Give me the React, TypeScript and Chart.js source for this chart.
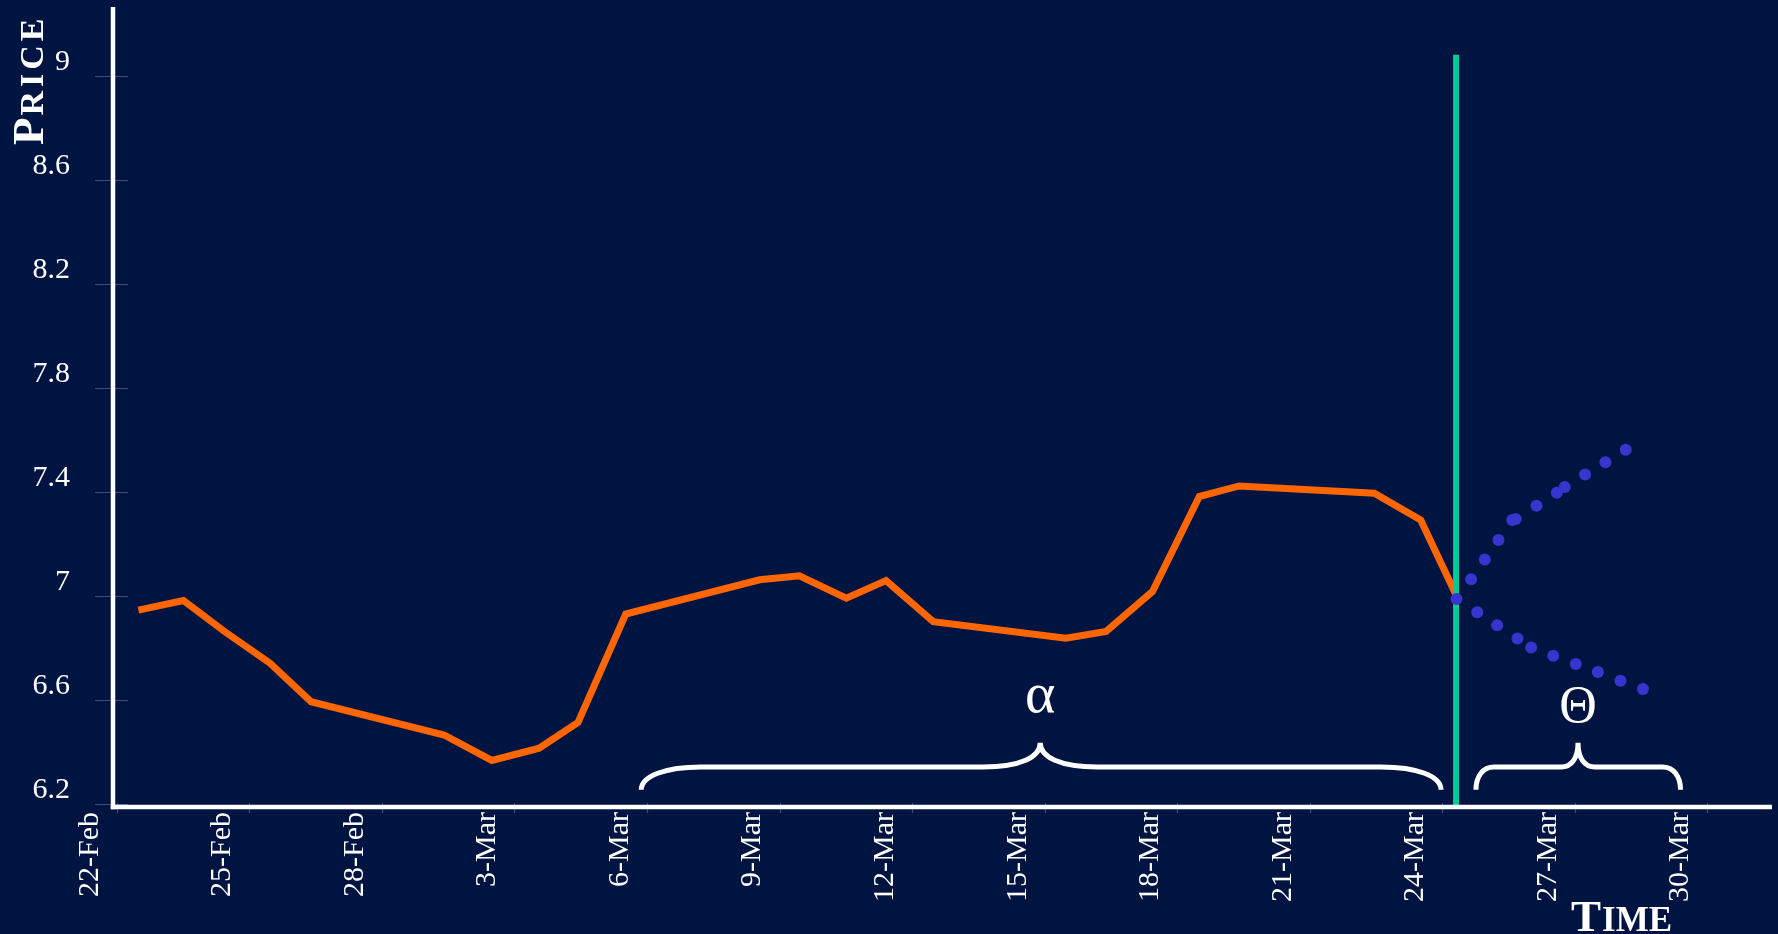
import React, { useEffect, useRef } from 'react';
import { Chart, registerables } from 'chart.js';

Chart.register(...registerables);

// ---- data (x = days since 22-Feb) ----
const tickDays = [0, 3, 6, 9, 12, 15, 18, 21, 24, 27, 30, 33, 36];
const tickLabels = ['22-Feb', '25-Feb', '28-Feb', '3-Mar', '6-Mar', '9-Mar', '12-Mar', '15-Mar', '18-Mar', '21-Mar', '24-Mar', '27-Mar', '30-Mar'];
const yTickValues = [6.2, 6.6, 7, 7.4, 7.8, 8.2, 8.6, 9];
const yTickLabels = ['6.2', '6.6', '7', '7.4', '7.8', '8.2', '8.6', '9'];

const priceDays = [0.49, 1.51, 2.44, 3.47, 4.40, 7.41, 8.49, 9.56, 10.44, 11.52, 14.55, 15.45, 16.51, 17.41, 18.48, 21.48, 22.39, 23.44, 24.50, 25.40, 28.46, 29.51, 30.33];
const priceValues = [6.945, 6.982, 6.863, 6.741, 6.593, 6.465, 6.367, 6.414, 6.513, 6.930, 7.062, 7.077, 6.991, 7.059, 6.901, 6.837, 6.863, 7.017, 7.382, 7.423, 7.395, 7.292, 6.997];

const upDays = [30.32, 30.65, 30.96, 31.27, 31.58, 31.66, 32.13, 32.59, 32.77, 33.23, 33.69, 34.15];
const upValues = [6.988, 7.064, 7.140, 7.215, 7.292, 7.296, 7.347, 7.397, 7.419, 7.467, 7.514, 7.562];
const downDays = [30.79, 31.24, 31.70, 32.01, 32.51, 33.02, 33.52, 34.03, 34.54];
const downValues = [6.937, 6.887, 6.836, 6.801, 6.770, 6.738, 6.707, 6.674, 6.642];

const nowDay = [30.31, 30.31];
const nowValues = [6.188, 9.081];

// brace annotations: [from day, to day, peak day], label
const braceFrom = [11.87, 30.76];
const braceTo = [29.97, 35.39];
const bracePeak = [20.9, 33.07];
const braceLabels = ['α', 'Θ'];

const X_MIN = -0.084;
const X_MAX = 37.46;
const Y_MIN = 6.188;
const Y_MAX = 9.265;

const FONT = "'Liberation Serif', 'Times New Roman', serif";
const BG = '#001442';

function drawBrace(ctx: CanvasRenderingContext2D, x1: number, x2: number, xm: number, yEnd: number, yBody: number, yPeak: number, rEnd: number, rCusp: number) {
  ctx.beginPath();
  ctx.moveTo(x1, yEnd);
  ctx.bezierCurveTo(x1, yEnd - (yEnd - yBody) * 0.6, x1 + rEnd * 0.4, yBody, x1 + rEnd, yBody);
  ctx.lineTo(xm - rCusp, yBody);
  ctx.bezierCurveTo(xm - rCusp * 0.35, yBody, xm, yBody - (yBody - yPeak) * 0.4, xm, yPeak);
  ctx.bezierCurveTo(xm, yBody - (yBody - yPeak) * 0.4, xm + rCusp * 0.35, yBody, xm + rCusp, yBody);
  ctx.lineTo(x2 - rEnd, yBody);
  ctx.bezierCurveTo(x2 - rEnd * 0.4, yBody, x2, yEnd - (yEnd - yBody) * 0.6, x2, yEnd);
  ctx.stroke();
}

const decorPlugin = {
  id: 'decor',
  beforeDraw(chart: any) {
    const ctx = chart.ctx;
    ctx.save();
    ctx.fillStyle = BG;
    ctx.fillRect(0, 0, chart.width, chart.height);
    ctx.restore();
  },
  beforeDatasetsDraw(chart: any) {
    const ctx = chart.ctx;
    const { x, y } = chart.scales;
    const area = chart.chartArea;
    ctx.save();
    // y tick marks crossing the axis
    ctx.strokeStyle = 'rgba(110,125,160,0.55)';
    ctx.lineWidth = 1.2;
    yTickValues.forEach((v) => {
      const py = Math.round(y.getPixelForValue(v)) + 0.5;
      ctx.beginPath();
      ctx.moveTo(area.left - 18, py);
      ctx.lineTo(area.left + 15, py);
      ctx.stroke();
    });
    // x tick marks
    tickDays.forEach((d) => {
      const px = Math.round(x.getPixelForValue(d)) + 0.5;
      ctx.beginPath();
      ctx.moveTo(px, area.bottom - 4);
      ctx.lineTo(px, area.bottom + 6);
      ctx.stroke();
    });
    ctx.restore();
  },
  afterDraw(chart: any) {
    const ctx = chart.ctx;
    const { x, y } = chart.scales;
    const area = chart.chartArea;
    ctx.save();
    // axes
    ctx.strokeStyle = '#ffffff';
    ctx.lineWidth = 4.5;
    ctx.beginPath();
    ctx.moveTo(area.left, area.top);
    ctx.lineTo(area.left, area.bottom + 2.2);
    ctx.stroke();
    ctx.beginPath();
    ctx.moveTo(area.left - 2.2, area.bottom);
    ctx.lineTo(area.right, area.bottom);
    ctx.stroke();

    // braces
    ctx.lineWidth = 5;
    ctx.lineCap = 'butt';
    const yEnd = y.getPixelForValue(6.254);
    const yBody = y.getPixelForValue(6.342);
    const yPeak = y.getPixelForValue(6.435);
    const radii = [[60, 57], [18, 17]];
    braceFrom.forEach((f, i) => {
      drawBrace(ctx, x.getPixelForValue(f), x.getPixelForValue(braceTo[i]), x.getPixelForValue(bracePeak[i]), yEnd, yBody, yPeak, radii[i][0], radii[i][1]);
    });
    // brace labels
    ctx.fillStyle = '#ffffff';
    ctx.textAlign = 'center';
    ctx.textBaseline = 'alphabetic';
    ctx.font = `58px ${FONT}`;
    ctx.fillText(braceLabels[0], x.getPixelForValue(bracePeak[0]), y.getPixelForValue(6.554));
    ctx.font = `52px ${FONT}`;
    ctx.fillText(braceLabels[1], x.getPixelForValue(bracePeak[1]), y.getPixelForValue(6.515));

    // axis titles (small caps)
    ctx.textAlign = 'left';
    // PRICE
    ctx.save();
    ctx.translate(43, 145);
    ctx.rotate(-Math.PI / 2);
    ctx.font = `bold 45px ${FONT}`;
    ctx.fillText('P', 0, 0);
    const pw = ctx.measureText('P').width;
    ctx.font = `bold 34px ${FONT}`;
    try { (ctx as any).letterSpacing = '4px'; } catch (e) {}
    ctx.fillText('RICE', pw + 2, 0);
    try { (ctx as any).letterSpacing = '0px'; } catch (e) {}
    ctx.restore();
    // TIME
    ctx.font = `bold 45px ${FONT}`;
    ctx.fillText('T', 1571, 931);
    const tw = ctx.measureText('T').width;
    ctx.font = `bold 35px ${FONT}`;
    ctx.fillText('IME', 1571 + tw + 1, 931);
    ctx.restore();
  },
};

function zeroPadding(s: any) {
  s.paddingTop = 0;
  s.paddingBottom = 0;
  s.paddingLeft = 0;
  s.paddingRight = 0;
}

export default function App() {
  const ref = useRef<HTMLCanvasElement | null>(null);

  useEffect(() => {
    document.body.style.margin = '0';
    document.body.style.background = BG;
    const canvas = ref.current;
    if (!canvas) return;

    const chart = new Chart(canvas, {
      type: 'line',
      data: {
        datasets: [
          {
            label: 'Up scenario',
            data: upDays.map((d, i) => ({ x: d, y: upValues[i] })),
            showLine: false,
            pointRadius: 6,
            pointHoverRadius: 6,
            pointBorderWidth: 0,
            pointBackgroundColor: '#3636cf',
            borderColor: '#3636cf',
            order: 0,
          },
          {
            label: 'Down scenario',
            data: downDays.map((d, i) => ({ x: d, y: downValues[i] })),
            showLine: false,
            pointRadius: 6,
            pointHoverRadius: 6,
            pointBorderWidth: 0,
            pointBackgroundColor: '#3636cf',
            borderColor: '#3636cf',
            order: 0,
          },
          {
            label: 'Now',
            data: nowDay.map((d, i) => ({ x: d, y: nowValues[i] })),
            borderColor: '#00cc99',
            borderWidth: 6,
            pointRadius: 0,
            borderCapStyle: 'butt',
            order: 1,
          },
          {
            label: 'Price',
            data: priceDays.map((d, i) => ({ x: d, y: priceValues[i] })),
            borderColor: '#ff6600',
            borderWidth: 7,
            pointRadius: 0,
            tension: 0,
            borderCapStyle: 'butt',
            borderJoinStyle: 'miter',
            order: 2,
          },
        ],
      },
      options: {
        animation: false,
        responsive: false,
        devicePixelRatio: 1,
        layout: { padding: { left: 0, right: 5, top: 7, bottom: 0 } },
        plugins: { legend: { display: false }, tooltip: { enabled: false } },
        events: [],
        scales: {
          x: {
            type: 'linear',
            min: X_MIN,
            max: X_MAX,
            afterBuildTicks: (s: any) => { s.ticks = tickDays.map((v) => ({ value: v })); },
            afterFit: (s: any) => { s.height = 127; zeroPadding(s); },
            grid: { display: false, drawTicks: false },
            border: { display: false },
            ticks: {
              autoSkip: false,
              minRotation: 90,
              maxRotation: 90,
              labelOffset: -27,
              padding: 5,
              color: '#ffffff',
              font: { family: FONT, size: 30 },
              callback: (_v: any, i: number) => tickLabels[i],
            },
          },
          y: {
            type: 'linear',
            min: Y_MIN,
            max: Y_MAX,
            afterBuildTicks: (s: any) => { s.ticks = yTickValues.map((v) => ({ value: v })); },
            afterFit: (s: any) => { s.width = 113; zeroPadding(s); },
            grid: { display: false, drawTicks: false },
            border: { display: false },
            ticks: {
              padding: 43,
              labelOffset: -14,
              color: '#ffffff',
              font: { family: FONT, size: 30 },
              callback: (_v: any, i: number) => yTickLabels[i],
            },
          },
        },
      } as any,
      plugins: [decorPlugin],
    });

    return () => chart.destroy();
  }, []);

  return (
    <div style={{ position: 'fixed', left: 0, top: 0, width: 1778, height: 934, background: BG }}>
      <canvas ref={ref} width={1778} height={934} style={{ display: 'block', width: 1778, height: 934 }} />
    </div>
  );
}
